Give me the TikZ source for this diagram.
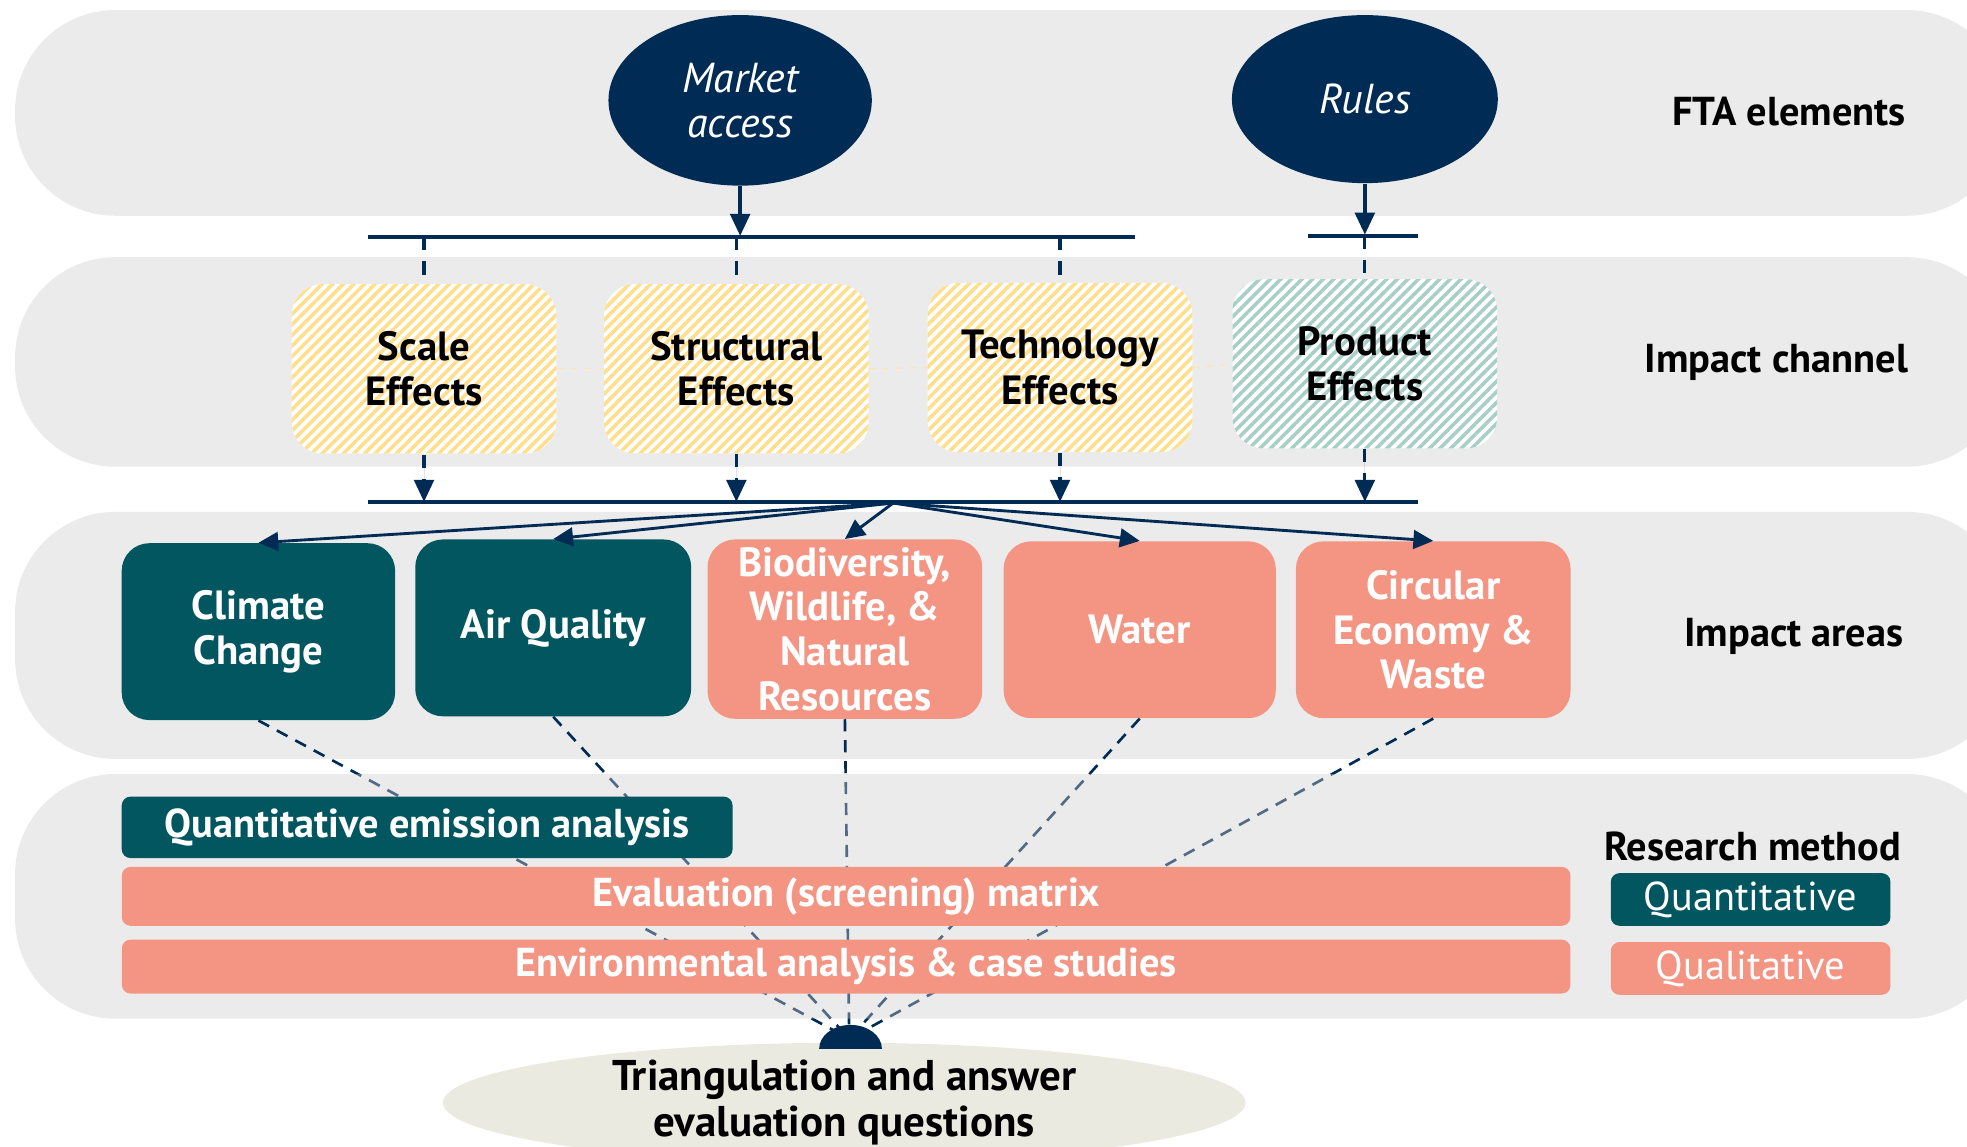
\documentclass[tikz,border=0pt]{standalone}
\usepackage{fontspec}
\setmainfont{PT Sans}
\usetikzlibrary{arrows.meta,patterns.meta,shapes.geometric}
\definecolor{navy}{RGB}{0,43,84}
\definecolor{tealbox}{RGB}{2,86,96}
\definecolor{salmon}{RGB}{244,149,132}
\definecolor{bandgray}{RGB}{235,235,235}
\definecolor{bandfour}{RGB}{205,205,205}
\definecolor{ellgray}{RGB}{234,234,225}
\definecolor{stripeY}{RGB}{255,222,140}
\definecolor{stripeT}{RGB}{168,206,200}
\definecolor{faintY}{RGB}{252,230,180}
\begin{document}
\begin{tikzpicture}[x=0.02cm,y=-0.02cm,
  band/.style={fill=bandgray, rounded corners=1.6cm},
  fta/.style={ellipse, fill=navy, text=white, inner sep=0pt, align=center, font=\fontsize{19}{20.5}\selectfont\itshape},
  chan/.style={rounded corners=0.5cm, minimum width=4.22cm, minimum height=2.7cm, inner sep=0pt, align=center, text=black, font=\fontsize{18.5}{20.5}\selectfont\bfseries, preaction={fill=white}, pattern={Lines[angle=45,distance=3.4pt,line width=1.6pt]}},
  area/.style={rounded corners=0.44cm, minimum height=2.82cm, inner sep=0pt, align=center, text=white, font=\fontsize{18.5}{20.3}\selectfont\bfseries},
  bar/.style={rounded corners=0.14cm, inner sep=0pt, text=white, font=\fontsize{18.3}{20.5}\selectfont\bfseries},
  lab/.style={inner sep=0pt, text=black, font=\fontsize{18.3}{20}\selectfont\bfseries},
  hline/.style={draw=navy, line width=1.8pt},
  vdash/.style={draw=navy, line width=1.4pt, dash pattern=on 6pt off 5pt},
  tip/.style={-{Triangle[length=10pt,width=9pt]}},
  fan/.style={draw=navy, line width=1.3pt, -{Triangle[length=9pt,width=8.5pt]}},
  ldash/.style={draw=navy, line width=1.2pt, dash pattern=on 5.5pt off 4pt},
  faint/.style={draw=faintY, line width=0.6pt, dash pattern=on 3pt off 3pt}
]
\useasboundingbox (0,0) rectangle (1568,914);
% background bands
\fill[band] (12,8) rectangle (1600,172);
\fill[band] (12,205) rectangle (1600,372);
\fill[band] (12,408) rectangle (1600,605);

% FTA elements
\node[fta, minimum width=4.2cm, minimum height=2.72cm] (market) at (590,80) {Market\\access};
\node[fta, minimum width=4.24cm, minimum height=2.68cm] (rules) at (1088,79) {Rules};
\node[lab] (lfta) at (1426,89) {FTA elements};

% horizontal bars
\coordinate (l1a) at (293,189);
\coordinate (l1b) at (905,189);
\coordinate (l2a) at (1043,188);
\coordinate (l2b) at (1130,188);
\coordinate (l3a) at (293,400);
\coordinate (l3b) at (1130,400);
\draw[hline] (l1a) -- (l1b);
\draw[hline] (l2a) -- (l2b);
\draw[hline] (l3a) -- (l3b);

\coordinate (mtop) at (590,188);
\coordinate (rtop) at (1088,187);
\draw[draw=navy, line width=1.5pt, tip, fill=navy] (market.south) -- (mtop);
\draw[draw=navy, line width=1.5pt, tip, fill=navy] (rules.south) -- (rtop);

% impact channel boxes
\node[chan, pattern color=stripeY] (scale) at (338,294) {Scale\\Effects};
\node[chan, pattern color=stripeY] (struct) at (587,294) {Structural\\Effects};
\node[chan, pattern color=stripeY] (tech) at (845,293) {Technology\\Effects};
\node[chan, pattern color=stripeT] (prod) at (1088,290) {Product\\Effects};
\node[lab] (lchan) at (1416,289) {Impact channel};

\draw[faint] (scale.east) -- (struct.west);
\draw[faint] (struct.east) -- (tech.west);
\draw[faint] (tech.east) -- (prod.west);

% dashed verticals from top bars
\draw[vdash] (scale.north |- l1a) -- (scale.north);
\draw[vdash] (struct.north |- l1a) -- (struct.north);
\draw[vdash] (tech.north |- l1a) -- (tech.north);
\draw[vdash] (prod.north |- l2a) -- (prod.north);

% dashed arrows down to bottom bar
\draw[vdash, tip, fill=navy] (scale.south) -- (scale.south |- l3a);
\draw[vdash, tip, fill=navy] (struct.south) -- (struct.south |- l3a);
\draw[vdash, tip, fill=navy] (tech.south) -- (tech.south |- l3a);
\draw[vdash, tip, fill=navy] (prod.south) -- (prod.south |- l3a);

% impact areas
\node[area, fill=tealbox, minimum width=4.36cm] (climate) at (206,503.5) {Climate\\Change};
\node[area, fill=tealbox, minimum width=4.40cm] (air) at (441,500.5) {Air Quality};
\node[area, fill=salmon, minimum width=4.38cm, minimum height=2.86cm] (bio) at (673.5,501.5) {Biodiversity,\\Wildlife, \&\\Natural\\Resources};
\node[area, fill=salmon, minimum width=4.34cm] (water) at (908.5,502) {Water};
\node[area, fill=salmon, minimum width=4.38cm] (circ) at (1142.5,502) {Circular\\Economy \&\\Waste};
\node[lab] (lareas) at (1430,507) {Impact areas};

% fan arrows
\coordinate (fanpt) at (712,401);
\draw[fan] (fanpt) -- (climate.north);
\draw[fan] (fanpt) -- (air.north);
\draw[fan] (fanpt) -- (bio.north);
\draw[fan] (fanpt) -- (water.north);
\draw[fan] (fanpt) -- (circ.north);

% dashed lines to triangulation
\coordinate (hub) at (677,828);
\draw[ldash] (climate.south) -- (hub);
\draw[ldash] (air.south) -- (hub);
\draw[ldash] (bio.south) -- (hub);
\draw[ldash] (water.south) -- (hub);
\draw[ldash] (circ.south) -- (hub);

% research method band (semi-transparent over the dashed lines)
\fill[fill=bandfour, fill opacity=0.4, rounded corners=1.6cm] (12,617) rectangle (1600,812);

% method bars
\node[bar, fill=tealbox, minimum width=9.74cm, minimum height=0.98cm] (qea) at (340.5,659.5) {Quantitative emission analysis};
\node[bar, fill=salmon, minimum width=23.1cm, minimum height=0.94cm] (esm) at (674.5,714.5) {Evaluation (screening) matrix};
\node[bar, fill=salmon, minimum width=23.1cm, minimum height=0.86cm] (eac) at (674.5,770.5) {Environmental analysis \& case studies};

% legend
\node[lab] (lmeth) at (1397,675) {Research method};
\node[bar, fill=tealbox, minimum width=4.46cm, minimum height=0.84cm, font=\fontsize{18.3}{20.5}\selectfont] (lquant) at (1395.5,717) {Quantitative};
\node[bar, fill=salmon, minimum width=4.46cm, minimum height=0.84cm, font=\fontsize{18.3}{20.5}\selectfont] (lqual) at (1395.5,772) {Qualitative};

% triangulation
\node[ellipse, fill=ellgray, minimum width=12.8cm, minimum height=1.68cm, inner sep=0pt, align=center, font=\fontsize{19.5}{20.7}\selectfont\bfseries] (tri) at (673,879) {Triangulation and answer\\evaluation questions};
\fill[navy] (653,836) arc[start angle=180, end angle=0, x radius=0.5cm, y radius=0.38cm] -- cycle;
\end{tikzpicture}
\end{document}
